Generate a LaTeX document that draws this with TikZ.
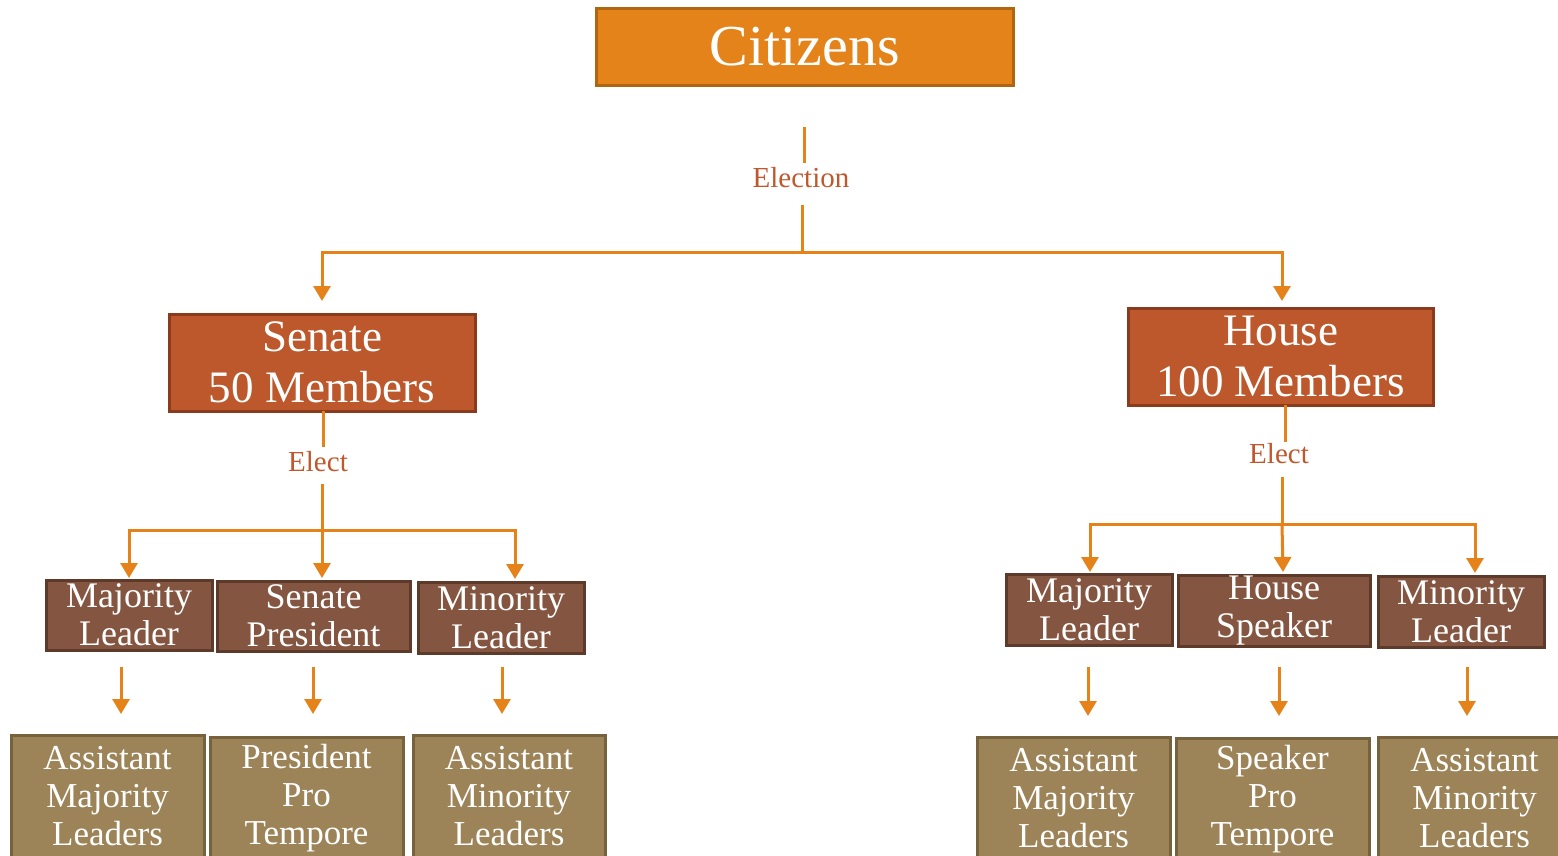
\documentclass[tikz,border=0pt]{standalone}
\usepackage{fontspec}
\setmainfont{Liberation Serif}
\usetikzlibrary{arrows.meta}
\definecolor{orangeF}{HTML}{E4831A}
\definecolor{orangeD}{HTML}{B0650F}
\definecolor{rustF}{HTML}{BC582C}
\definecolor{rustD}{HTML}{8A3B1C}
\definecolor{brownF}{HTML}{845540}
\definecolor{brownD}{HTML}{5E3A2A}
\definecolor{khakiF}{HTML}{9C8358}
\definecolor{khakiD}{HTML}{77623E}
\definecolor{lineC}{HTML}{E5831A}
\definecolor{labelC}{HTML}{C0582E}
\tikzset{
  boxbase/.style={draw, line width=3pt, text=white, align=center, inner sep=0pt, anchor=center},
  topbox/.style={boxbase, fill=orangeF, draw=orangeD, minimum width=417pt, minimum height=77pt, font=\fontsize{58}{60}\selectfont},
  housebox/.style={boxbase, fill=rustF, draw=rustD, minimum width=305pt, minimum height=97pt, font=\fontsize{45}{51}\selectfont},
  leadbox/.style={boxbase, fill=brownF, draw=brownD, minimum height=70pt, font=\fontsize{36}{38}\selectfont},
  asstbox/.style={boxbase, fill=khakiF, draw=khakiD, minimum width=193pt, minimum height=122pt, font=\fontsize{35}{38}\selectfont},
  lbl/.style={text=labelC, inner sep=0pt, font=\fontsize{29}{30}\selectfont},
  conn/.style={draw=lineC, line width=3pt},
  arr/.style={conn, -{Triangle[width=17pt,length=15pt]}},
}
\begin{document}
\begin{tikzpicture}[x=1pt,y=-1pt]
\useasboundingbox (0,0) rectangle (1558,855);
\clip (0,0) rectangle (1558,855);
\fill[white] (0,0) rectangle (1558,855);

% top
\node[topbox] (cit) at (804.5,46.5) {Citizens};
\node[lbl] (elec) at (801,178) {Election};
\coordinate (e1) at (804,127);
\coordinate (e2) at (804,163);
\coordinate (e3) at (802,205);
\coordinate (jn) at (802,252);
\coordinate (sJ) at (322,252);
\coordinate (hJ) at (1282,252);
\coordinate (sT) at (322,301);
\coordinate (hT) at (1282,301);
\draw[conn] (e1) -- (e2);
\draw[conn] (e3) -- (jn);
\draw[arr] (jn) -- (sJ) -- (sT);
\draw[arr] (jn) -- (hJ) -- (hT);

% chambers
\node[housebox, minimum width=306pt] (sen) at (322,362.5) {Senate\\50 Members};
\node[housebox] (hou) at (1280.5,356.5) {House\\100 Members};

% senate elect
\node[lbl] (select) at (318,462) {Elect};
\coordinate (s1) at (323,411);
\coordinate (s2) at (323,447);
\coordinate (s3) at (322,484);
\coordinate (s4) at (322,530);
\coordinate (s5) at (129,530);
\coordinate (s6) at (515,530);
\coordinate (sa) at (129,578);
\coordinate (sb) at (322,578);
\coordinate (sc) at (515,579);
\draw[conn] (s1) -- (s2);
\draw[conn] (s3) -- (s4);
\draw[arr] (s4) -- (s5) -- (sa);
\draw[arr] (s4) -- (sb);
\draw[arr] (s4) -- (s6) -- (sc);

% house elect
\node[lbl] (helect) at (1279,454) {Elect};
\coordinate (h1) at (1285,405);
\coordinate (h2) at (1285,442);
\coordinate (h3) at (1282,477);
\coordinate (h4) at (1282,524);
\coordinate (h5) at (1090,524);
\coordinate (h6) at (1475,524);
\coordinate (ha) at (1090,572);
\coordinate (hb) at (1283,572);
\coordinate (hc) at (1475,573);
\draw[conn] (h1) -- (h2);
\draw[conn] (h3) -- (h4);
\draw[arr] (h4) -- (h5) -- (ha);
\draw[arr] (h4) -- (hb);
\draw[arr] (h4) -- (h6) -- (hc);

% senate leaders
\node[leadbox, minimum width=166pt] (sml) at (129,615) {Majority\\Leader};
\node[leadbox, minimum width=193pt] (sp) at (313.5,616) {Senate\\President};
\node[leadbox, minimum width=166pt, minimum height=71pt] (smn) at (501,617.5) {Minority\\Leader};

% house leaders
\node[leadbox, minimum width=166pt, minimum height=71pt] (hml) at (1089,609.5) {Majority\\Leader};
\node[leadbox, minimum width=192pt, minimum height=71pt] (hs) at (1274,610.5) {House\\Speaker};
\node[leadbox, minimum width=166pt, minimum height=71pt] (hmn) at (1461,611.5) {Minority\\Leader};

% assistants senate
\node[asstbox] (sa1) at (107.5,796) {Assistant\\Majority\\Leaders};
\node[asstbox] (sa2) at (306.5,798) {President\\Pro\\Tempore};
\node[asstbox, minimum width=192pt] (sa3) at (509,796) {Assistant\\Minority\\Leaders};

% assistants house
\node[asstbox] (ha1) at (1073.5,798) {Assistant\\Majority\\Leaders};
\node[asstbox] (ha2) at (1272.5,799) {Speaker\\Pro\\Tempore};
\node[asstbox] (ha3) at (1474.5,798) {Assistant\\Minority\\Leaders};

% down arrows
\coordinate (d1a) at (121,667); \coordinate (d1b) at (121,714);
\coordinate (d2a) at (313,667); \coordinate (d2b) at (313,714);
\coordinate (d3a) at (502,667); \coordinate (d3b) at (502,714);
\coordinate (d4a) at (1088,667); \coordinate (d4b) at (1088,716);
\coordinate (d5a) at (1279,667); \coordinate (d5b) at (1279,716);
\coordinate (d6a) at (1467,667); \coordinate (d6b) at (1467,716);
\draw[arr] (d1a) -- (d1b);
\draw[arr] (d2a) -- (d2b);
\draw[arr] (d3a) -- (d3b);
\draw[arr] (d4a) -- (d4b);
\draw[arr] (d5a) -- (d5b);
\draw[arr] (d6a) -- (d6b);
\end{tikzpicture}
\end{document}
